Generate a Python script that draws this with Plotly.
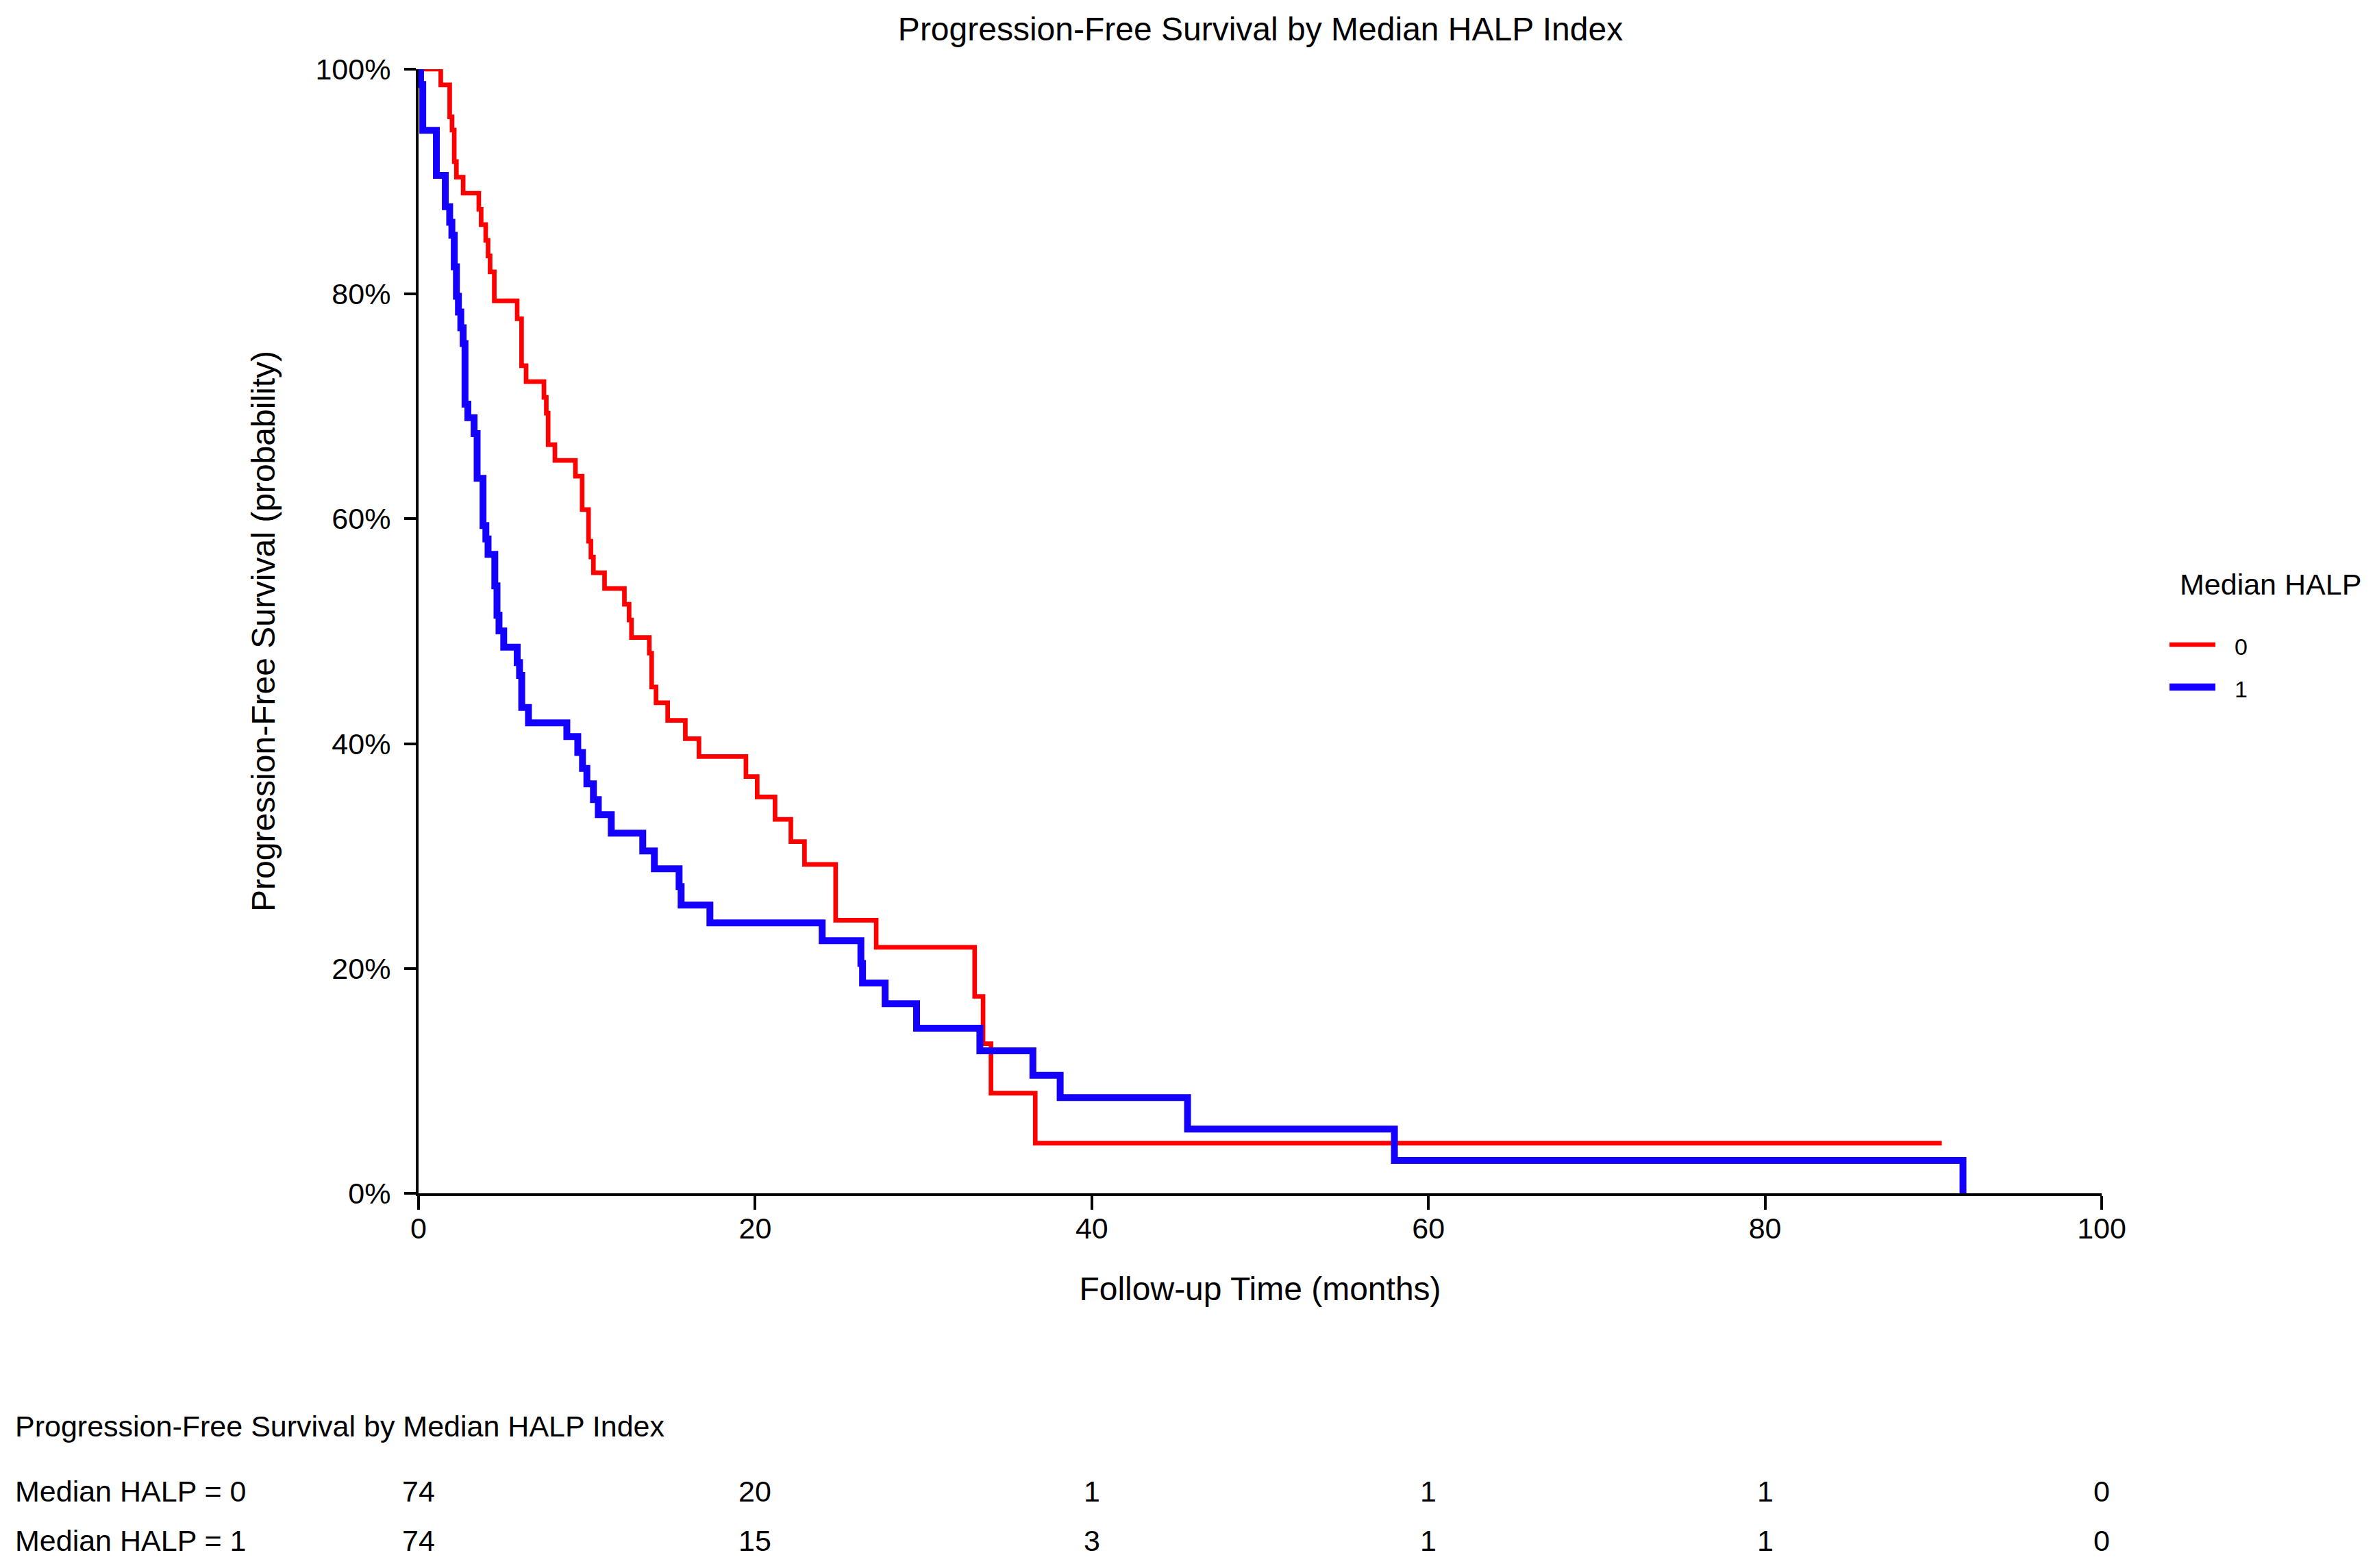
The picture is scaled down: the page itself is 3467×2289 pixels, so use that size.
import plotly.graph_objects as go

# ---- Data (time in months, survival in %) ----
red_t = [0, 1.32, 1.85, 1.99, 2.12, 2.25, 2.65, 3.58, 3.72, 3.99, 4.13, 4.25, 4.50,
         5.86, 6.12, 6.39, 7.45, 7.59, 7.70, 8.10, 9.32, 9.72, 10.10, 10.24, 10.39,
         11.05, 12.23, 12.51, 12.65, 13.71, 13.85, 14.11, 14.80, 15.85, 16.66, 19.45,
         20.12, 21.18, 22.12, 22.93, 24.78, 27.19, 33.04, 33.54, 34.01, 36.64, 90.5]
red_s = [100, 98.6, 95.76, 94.58, 91.78, 90.40, 88.97, 87.55, 86.17, 84.77, 83.39, 81.97, 79.39,
         77.79, 73.62, 72.2, 70.8, 69.4, 66.6, 65.2, 63.8, 60.82, 58.0, 56.6, 55.2,
         53.8, 52.4, 51.0, 49.45, 48.05, 45.04, 43.64, 42.07, 40.44, 38.85, 37.07,
         35.26, 33.27, 31.29, 29.26, 24.29, 21.89, 17.52, 13.31, 8.91, 4.46, 4.46]

blue_t = [0, 0.12, 0.25, 1.06, 1.59, 1.85, 1.98, 2.12, 2.25, 2.37, 2.51, 2.65, 2.76,
          2.93, 3.30, 3.48, 3.83, 4.00, 4.13, 4.53, 4.66, 4.78, 5.06, 5.86, 6.00, 6.13,
          6.53, 8.81, 9.46, 9.74, 10.0, 10.39, 10.68, 11.45, 13.32, 14.01, 15.48, 15.6,
          17.31, 23.98, 26.28, 26.38, 27.72, 29.59, 33.35, 36.50, 38.12, 45.69, 57.98, 91.76]
blue_s = [100, 98.65, 94.56, 90.56, 87.76, 86.38, 85.22, 82.42, 79.80, 78.40, 77.0, 75.6, 70.2,
          69.0, 67.58, 63.6, 59.4, 58.21, 56.84, 54.04, 51.43, 50.03, 48.58, 47.21, 46.07, 43.22,
          41.85, 40.63, 39.22, 37.8, 36.42, 35.02, 33.68, 32.04, 30.45, 28.87, 27.29, 25.64,
          24.06, 22.47, 20.44, 18.71, 16.87, 14.68, 12.67, 10.49, 8.52, 5.72, 2.92, 0]

x_ticks = [0, 20, 40, 60, 80, 100]
y_ticks = [0, 20, 40, 60, 80, 100]
y_ticktext = ["0%", "20%", "40%", "60%", "80%", "100%"]
risk_times = [0, 20, 40, 60, 80, 100]
risk_0 = [74, 20, 1, 1, 1, 0]
risk_1 = [74, 15, 3, 1, 1, 0]
group_labels = ["0", "1"]

RED = "#FF0000"
BLUE = "#1400FF"
FONT = "Liberation Sans, Arial, sans-serif"

OFF = 8  # default page body margin
W, H = 3467 - 2 * OFF, 2289 - 2 * OFF
L, T = 611 - OFF, 101 - OFF
R = W - (3068 - OFF)
B = H - (1742 - OFF)
PW, PH = W - L - R, H - T - B


def px2paper_x(px):
    return (px - OFF - L) / PW


def px2paper_y(py):
    return (H - B - (py - OFF)) / PH


fig = go.Figure()
fig.add_trace(go.Scatter(x=red_t, y=red_s, mode="lines", name=group_labels[0],
                         line=dict(shape="hv", color=RED, width=6.7), showlegend=False))
fig.add_trace(go.Scatter(x=blue_t, y=blue_s, mode="lines", name=group_labels[1],
                         line=dict(shape="hv", color=BLUE, width=10), showlegend=False))

axis_common = dict(showline=True, linecolor="black", linewidth=4, ticks="outside",
                   tickcolor="black", tickwidth=4, showgrid=False, zeroline=False,
                   tickfont=dict(family=FONT, size=43, color="black"), automargin=False)

fig.update_layout(
    width=W, height=H,
    margin=dict(l=L, r=R, t=T, b=B),
    paper_bgcolor="white", plot_bgcolor="white",
    font=dict(family=FONT, color="black"),
    title=dict(text="Progression-Free Survival by Median HALP Index",
               x=px2paper_x(1840), xref="paper", xanchor="center",
               y=1 - (42 - OFF) / H, yref="container", yanchor="middle",
               font=dict(family=FONT, size=48, color="black")),
    xaxis=dict(range=[0, 100], tickvals=x_ticks, ticklen=20, ticklabelstandoff=-10,
               title=dict(text="Follow-up Time (months)", standoff=50,
                          font=dict(family=FONT, size=48, color="black")),
               **axis_common),
    yaxis=dict(range=[0, 100], tickvals=y_ticks, ticktext=y_ticktext, ticklen=17,
               ticklabelstandoff=11,
               title=dict(text="Progression-Free Survival (probability)", standoff=45,
                          font=dict(family=FONT, size=48, color="black")),
               **axis_common),
    showlegend=False,
)

# ---- custom legend (right side) ----
shapes = []
annotations = []
annotations.append(dict(text="Median HALP", xref="paper", yref="paper",
                        x=px2paper_x(3180), y=px2paper_y(853), xanchor="left", yanchor="middle",
                        showarrow=False, font=dict(family=FONT, size=43, color="black")))
for lab, col, wd, py in [(group_labels[0], RED, 6.7, 941), (group_labels[1], BLUE, 10.7, 1003)]:
    shapes.append(dict(type="line", xref="paper", yref="paper",
                       x0=px2paper_x(3167), x1=px2paper_x(3234),
                       y0=px2paper_y(py), y1=px2paper_y(py),
                       line=dict(color=col, width=wd)))
    annotations.append(dict(text=lab, xref="paper", yref="paper",
                            x=px2paper_x(3260), y=px2paper_y(py + 3), xanchor="left", yanchor="middle",
                            showarrow=False, font=dict(family=FONT, size=34, color="black")))

# ---- risk table ----
annotations.append(dict(text="Progression-Free Survival by Median HALP Index", xref="paper", yref="paper",
                        x=px2paper_x(20), y=px2paper_y(2082), xanchor="left", yanchor="middle",
                        showarrow=False, font=dict(family=FONT, size=43, color="black")))
for lab, counts, py in [("Median HALP = 0", risk_0, 2177), ("Median HALP = 1", risk_1, 2249)]:
    annotations.append(dict(text=lab, xref="paper", yref="paper",
                            x=px2paper_x(20), y=px2paper_y(py), xanchor="left", yanchor="middle",
                            showarrow=False, font=dict(family=FONT, size=43, color="black")))
    for t, c in zip(risk_times, counts):
        annotations.append(dict(text=str(c), xref="x", yref="paper",
                                x=t, y=px2paper_y(py), xanchor="center", yanchor="middle",
                                showarrow=False, font=dict(family=FONT, size=43, color="black")))

fig.update_layout(shapes=shapes, annotations=annotations)

fig.write_html("out.html")
